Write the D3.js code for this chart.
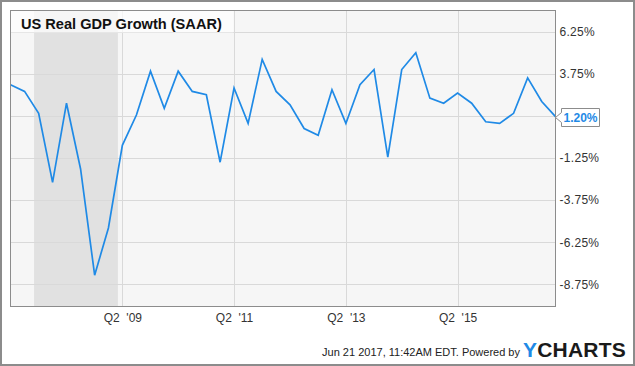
<!DOCTYPE html>
<html>
<head>
<meta charset="utf-8">
<script src="https://cdn.jsdelivr.net/npm/d3@7"></script>
<style>
  html, body { margin: 0; padding: 0; background: #fff; }
  svg { display: block; font-family: "Liberation Sans", Arial, sans-serif; }
</style>
</head>
<body>
<div id="chart"></div>
<script>
// Quarter-end dates, Q2 2007 .. Q1 2017
const quarters = [
  "2007-06-30", "2007-09-30", "2007-12-31",
  "2008-03-31", "2008-06-30", "2008-09-30", "2008-12-31",
  "2009-03-31", "2009-06-30", "2009-09-30", "2009-12-31",
  "2010-03-31", "2010-06-30", "2010-09-30", "2010-12-31",
  "2011-03-31", "2011-06-30", "2011-09-30", "2011-12-31",
  "2012-03-31", "2012-06-30", "2012-09-30", "2012-12-31",
  "2013-03-31", "2013-06-30", "2013-09-30", "2013-12-31",
  "2014-03-31", "2014-06-30", "2014-09-30", "2014-12-31",
  "2015-03-31", "2015-06-30", "2015-09-30", "2015-12-31",
  "2016-03-31", "2016-06-30", "2016-09-30", "2016-12-31",
  "2017-03-31"
];
// Real GDP growth, % SAAR
const gdpGrowth = [
  3.1, 2.7, 1.4,
  -2.7, 2.0, -1.9, -8.2,
  -5.4, -0.5, 1.3, 3.9,
  1.7, 3.9, 2.7, 2.5,
  -1.5, 2.9, 0.8, 4.6,
  2.7, 1.9, 0.5, 0.1,
  2.8, 0.8, 3.1, 4.0,
  -1.2, 4.0, 5.0, 2.3,
  2.0, 2.6, 2.0, 0.9,
  0.8, 1.4, 3.5, 2.1,
  1.2
];
const yTicks = [-8.75, -6.25, -3.75, -1.25, 1.25, 3.75, 6.25];
const xTicks = ["2009-06-30", "2011-06-30", "2013-06-30", "2015-06-30"];
const recession = ["2007-12-01", "2009-06-01"];
const title = "US Real GDP Growth (SAAR)";
const lastLabel = "1.20%";
const footer = "Jun 21 2017, 11:42AM EDT. Powered by";

const W = 635, H = 366;
const plot = { left: 10.5, top: 10.5, right: 555.5, bottom: 306.5 };
const parse = d3.timeParse("%Y-%m-%d");
const blue = "#1f8ae6";

const data = quarters.map((q, i) => ({ date: parse(q), value: gdpGrowth[i] }));
const last = data[data.length - 1];

const svg = d3.select("#chart").append("svg")
  .attr("width", W)
  .attr("height", H);

// outer frame
svg.append("rect")
  .attr("x", 1).attr("y", 1)
  .attr("width", W - 2).attr("height", H - 2)
  .attr("fill", "#fff")
  .attr("stroke", "#8c8c8c")
  .attr("stroke-width", 2);

const x = d3.scaleTime()
  .domain(d3.extent(data, d => d.date))
  .range([plot.left, plot.right]);

const y = d3.scaleLinear()
  .domain([-10.06, 7.5])
  .range([plot.bottom, plot.top]);

// plot background
svg.append("rect")
  .attr("x", plot.left).attr("y", plot.top)
  .attr("width", plot.right - plot.left)
  .attr("height", plot.bottom - plot.top)
  .attr("fill", "#f6f6f6");

// recession band
svg.append("rect")
  .attr("x", x(parse(recession[0])))
  .attr("y", plot.top)
  .attr("width", x(parse(recession[1])) - x(parse(recession[0])))
  .attr("height", plot.bottom - plot.top)
  .attr("fill", "#e1e1e1");

// grid
svg.append("g").selectAll("line")
  .data(yTicks)
  .join("line")
  .attr("x1", plot.left).attr("x2", plot.right)
  .attr("y1", d => Math.round(y(d)) + 0.5)
  .attr("y2", d => Math.round(y(d)) + 0.5)
  .attr("stroke", "#d9d9d9");

svg.append("g").selectAll("line")
  .data(xTicks)
  .join("line")
  .attr("x1", d => Math.round(x(parse(d))) + 0.5)
  .attr("x2", d => Math.round(x(parse(d))) + 0.5)
  .attr("y1", plot.top).attr("y2", plot.bottom)
  .attr("stroke", "#d9d9d9");

// series
const line = d3.line()
  .x(d => x(d.date))
  .y(d => y(d.value));

svg.append("path")
  .datum(data)
  .attr("fill", "none")
  .attr("stroke", blue)
  .attr("stroke-width", 1.7)
  .attr("stroke-linejoin", "miter")
  .attr("d", line);

// title box
svg.append("rect")
  .attr("x", plot.left).attr("y", plot.top)
  .attr("width", 223).attr("height", 22)
  .attr("fill", "#fff")
  .attr("fill-opacity", 0.7);

svg.append("text")
  .attr("x", 21).attr("y", 28.5)
  .attr("font-size", "14.6px")
  .attr("font-weight", "bold")
  .attr("fill", "#111")
  .text(title);

// plot border
svg.append("rect")
  .attr("x", plot.left).attr("y", plot.top)
  .attr("width", plot.right - plot.left)
  .attr("height", plot.bottom - plot.top)
  .attr("fill", "none")
  .attr("stroke", "#8c8c8c");

// right axis (the tick hidden behind the last-value flag is skipped)
const yAxis = svg.append("g")
  .attr("transform", `translate(${plot.right},0)`)
  .call(d3.axisRight(y)
    .tickValues(yTicks.filter(t => Math.abs(y(t) - y(last.value)) > 12))
    .tickSize(0).tickPadding(4)
    .tickFormat(d => d.toFixed(2) + "%"));
yAxis.select(".domain").remove();
yAxis.selectAll("text")
  .attr("font-size", "12px")
  .attr("font-family", "Liberation Sans, Arial, sans-serif")
  .attr("fill", "#333")
  .attr("letter-spacing", "0.3px");

// bottom axis
const xAxis = svg.append("g")
  .attr("transform", `translate(0,${plot.bottom})`)
  .call(d3.axisBottom(x).tickValues(xTicks.map(parse)).tickSize(0).tickPadding(7)
    .tickFormat(d => "Q" + (Math.floor(d.getMonth() / 3) + 1) + "\u00a0 '" + d3.timeFormat("%y")(d)));
xAxis.select(".domain").remove();
xAxis.selectAll("text")
  .attr("font-size", "12px")
  .attr("font-family", "Liberation Sans, Arial, sans-serif")
  .attr("fill", "#333");

// last value flag
const lx = x(last.date), ly = Math.round(y(last.value)) + 0.5;
const bx = lx + 6, bw = 38, bh = 18;
svg.append("path")
  .attr("d", `M${lx},${ly} L${bx},${ly - 5} V${ly - bh / 2} H${bx + bw} V${ly + bh / 2} H${bx} V${ly + 5} Z`)
  .attr("fill", "#fff")
  .attr("stroke", "#8c8c8c");
svg.append("text")
  .attr("x", bx + bw / 2).attr("y", ly + 4.5)
  .attr("text-anchor", "middle")
  .attr("font-size", "12px")
  .attr("font-weight", "bold")
  .attr("fill", blue)
  .text(lastLabel);

// footer
svg.append("text")
  .attr("x", 520).attr("y", 356)
  .attr("text-anchor", "end")
  .attr("font-size", "11px")
  .attr("fill", "#222")
  .text(footer);

const logo = svg.append("text")
  .attr("x", 523).attr("y", 357)
  .attr("font-size", "21px")
  .attr("font-weight", "bold")
  .attr("letter-spacing", "0.2px");
logo.append("tspan").attr("fill", blue).text("Y");
logo.append("tspan").attr("fill", "#1a1a1a").text("CHARTS");
</script>
</body>
</html>
